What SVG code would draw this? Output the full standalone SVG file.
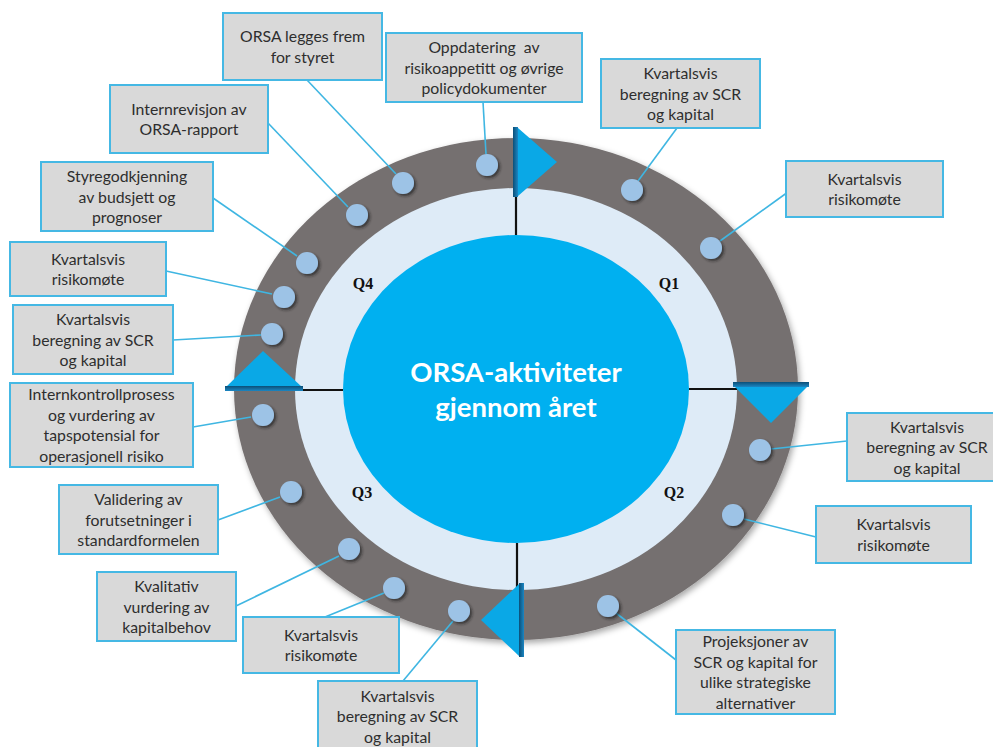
<svg xmlns="http://www.w3.org/2000/svg" width="993" height="747" viewBox="0 0 993 747">
<defs>
<filter id="sh" x="-20%" y="-20%" width="150%" height="150%"><feDropShadow dx="2" dy="2" stdDeviation="1.5" flood-color="#1a1a1a" flood-opacity="0.7"/></filter>
<filter id="ringsh" x="-10%" y="-10%" width="120%" height="120%"><feDropShadow dx="2" dy="3" stdDeviation="3" flood-color="#000" flood-opacity="0.35"/></filter>
<linearGradient id="pole" x1="0" y1="0" x2="1" y2="0"><stop offset="0" stop-color="#0b4f78"/><stop offset="1" stop-color="#1b86c2"/></linearGradient>
<linearGradient id="poleh" x1="0" y1="0" x2="0" y2="1"><stop offset="0" stop-color="#0b4f78"/><stop offset="1" stop-color="#1b86c2"/></linearGradient>
</defs>
<style>
.box{fill:#d9d9d9;stroke:#45b8e4;stroke-width:2}
.lbl{font-family:Lato,"Liberation Sans",sans-serif;font-size:15.8px;fill:#2e2e2e;text-anchor:middle}
.dot{fill:#9dc3e6;filter:url(#sh)}
.con line{stroke:#3fb6e2;stroke-width:1.6}
.q{font-family:"Liberation Serif",serif;font-weight:bold;font-size:16px;fill:#111;text-anchor:middle}
.tri{fill:#0aa8e6}
.qline{stroke:#111;stroke-width:2.2}
</style>
<rect width="993" height="747" fill="#fff"/>
<g id="wheel">
<ellipse cx="516" cy="389" rx="282" ry="251" fill="#757070" filter="url(#ringsh)"/>
<ellipse cx="516" cy="389" rx="221" ry="201" fill="#deebf7"/>
<ellipse cx="516" cy="389" rx="173" ry="154" fill="#00b0f0"/>
<line class="qline" x1="516" y1="188" x2="516" y2="235"/>
<line class="qline" x1="689" y1="389" x2="737" y2="389"/>
<line class="qline" x1="517" y1="543" x2="517" y2="588"/>
<line class="qline" x1="295" y1="390" x2="343" y2="390"/>
<text x="516" y="382" font-family="Lato,'Liberation Sans',sans-serif" font-weight="bold" font-size="27.5" fill="#fff" text-anchor="middle">ORSA-aktiviteter</text>
<text x="516" y="417" font-family="Lato,'Liberation Sans',sans-serif" font-weight="bold" font-size="27.5" fill="#fff" text-anchor="middle">gjennom året</text>
<text class="q" x="363" y="289">Q4</text>
<text class="q" x="669" y="289">Q1</text>
<text class="q" x="362" y="498">Q3</text>
<text class="q" x="674" y="498">Q2</text>
</g>
<g id="flags">
<polygon class="tri" points="518,128 518,196 557,162"/>
<rect x="513" y="127" width="5" height="70" fill="url(#pole)"/>
<polygon class="tri" points="734,386 808,386 771,423"/>
<rect x="733" y="382" width="76" height="5" fill="url(#poleh)"/>
<polygon class="tri" points="519,584 519,656 481,620"/>
<rect x="519" y="583" width="5" height="74" fill="url(#pole)"/>
<polygon class="tri" points="226,387 302,387 263,351"/>
<rect x="225" y="386" width="78" height="5" fill="url(#poleh)"/>
</g>
<g id="connectors" class="con">
<line x1="483" y1="102" x2="486" y2="154"/>
<line x1="307" y1="80" x2="396" y2="174"/>
<line x1="268" y1="123" x2="348" y2="207"/>
<line x1="213" y1="198" x2="297" y2="256"/>
<line x1="166" y1="271" x2="272" y2="294"/>
<line x1="173" y1="340" x2="261" y2="335"/>
<line x1="193" y1="427" x2="251" y2="417"/>
<line x1="218" y1="520" x2="280" y2="497"/>
<line x1="236" y1="606" x2="339" y2="556"/>
<line x1="325" y1="617" x2="384" y2="593"/>
<line x1="403" y1="681" x2="453" y2="621"/>
<line x1="676" y1="660" x2="616" y2="613"/>
<line x1="816" y1="537" x2="744" y2="519"/>
<line x1="847" y1="441" x2="771" y2="449"/>
<line x1="788" y1="192" x2="720" y2="241"/>
<line x1="677" y1="128" x2="638" y2="181"/>
</g>
<g id="n1"><rect class="box" x="223" y="13" width="159" height="67"/><text class="lbl" x="302.5" y="42.3">ORSA legges frem<tspan x="302.5" dy="20.5">for styret</tspan></text><circle class="dot" cx="403" cy="183" r="11"/></g>
<g id="n2"><rect class="box" x="386" y="33" width="196" height="69"/><text class="lbl" x="484" y="53" style="white-space:pre">Oppdatering  av<tspan x="484" dy="20.5">risikoappetitt og øvrige</tspan><tspan x="484" dy="20.5">policydokumenter</tspan></text><circle class="dot" cx="487" cy="165" r="11"/></g>
<g id="n3"><rect class="box" x="110" y="85" width="158" height="68"/><text class="lbl" x="189" y="114.8">Internrevisjon av<tspan x="189" dy="20.5">ORSA-rapport</tspan></text><circle class="dot" cx="357" cy="215" r="11"/></g>
<g id="n4"><rect class="box" x="41" y="162" width="172" height="69"/><text class="lbl" x="127" y="182">Styregodkjenning<tspan x="127" dy="20.5">av budsjett og</tspan><tspan x="127" dy="20.5">prognoser</tspan></text><circle class="dot" cx="307" cy="263" r="11"/></g>
<g id="n5"><rect class="box" x="10" y="242" width="156" height="54"/><text class="lbl" x="88" y="264.8">Kvartalsvis<tspan x="88" dy="20.5">risikomøte</tspan></text><circle class="dot" cx="284" cy="297" r="11"/></g>
<g id="n6"><rect class="box" x="13" y="305" width="160" height="69"/><text class="lbl" x="93" y="325">Kvartalsvis<tspan x="93" dy="20.5">beregning av SCR</tspan><tspan x="93" dy="20.5">og kapital</tspan></text><circle class="dot" cx="272" cy="334" r="11"/></g>
<g id="n7"><rect class="box" x="10" y="383" width="183" height="84"/><text class="lbl" x="101.5" y="400.3">Internkontrollprosess<tspan x="101.5" dy="20.5">og vurdering av</tspan><tspan x="101.5" dy="20.5">tapspotensial for</tspan><tspan x="101.5" dy="20.5">operasjonell risiko</tspan></text><circle class="dot" cx="263" cy="415" r="11"/></g>
<g id="n8"><rect class="box" x="59" y="485" width="159" height="69"/><text class="lbl" x="138.5" y="505">Validering av<tspan x="138.5" dy="20.5">forutsetninger i</tspan><tspan x="138.5" dy="20.5">standardformelen</tspan></text><circle class="dot" cx="291" cy="492" r="11"/></g>
<g id="n9"><rect class="box" x="97" y="572" width="139" height="69"/><text class="lbl" x="166.5" y="592">Kvalitativ<tspan x="166.5" dy="20.5">vurdering av</tspan><tspan x="166.5" dy="20.5">kapitalbehov</tspan></text><circle class="dot" cx="349" cy="549" r="11"/></g>
<g id="n10"><rect class="box" x="243" y="617" width="156" height="56"/><text class="lbl" x="321" y="640.8">Kvartalsvis<tspan x="321" dy="20.5">risikomøte</tspan></text><circle class="dot" cx="394" cy="588" r="11"/></g>
<g id="n11"><rect class="box" x="318" y="681" width="159" height="70"/><text class="lbl" x="397.5" y="701.5">Kvartalsvis<tspan x="397.5" dy="20.5">beregning av SCR</tspan><tspan x="397.5" dy="20.5">og kapital</tspan></text><circle class="dot" cx="459" cy="611" r="11"/></g>
<g id="n12"><rect class="box" x="676" y="630" width="159" height="84"/><text class="lbl" x="755.5" y="647.3">Projeksjoner av<tspan x="755.5" dy="20.5">SCR og kapital for</tspan><tspan x="755.5" dy="20.5">ulike strategiske</tspan><tspan x="755.5" dy="20.5">alternativer</tspan></text><circle class="dot" cx="608" cy="606" r="11"/></g>
<g id="n13"><rect class="box" x="816" y="506" width="155" height="57"/><text class="lbl" x="893.5" y="530.3">Kvartalsvis<tspan x="893.5" dy="20.5">risikomøte</tspan></text><circle class="dot" cx="733" cy="515" r="11"/></g>
<g id="n14"><rect class="box" x="847" y="413" width="160" height="68"/><text class="lbl" x="927" y="432.5">Kvartalsvis<tspan x="927" dy="20.5">beregning av SCR</tspan><tspan x="927" dy="20.5">og kapital</tspan></text><circle class="dot" cx="760" cy="450" r="11"/></g>
<g id="n15"><rect class="box" x="786" y="161" width="157" height="56"/><text class="lbl" x="864.5" y="184.8">Kvartalsvis<tspan x="864.5" dy="20.5">risikomøte</tspan></text><circle class="dot" cx="711" cy="248" r="11"/></g>
<g id="n16"><rect class="box" x="601" y="59" width="159" height="69"/><text class="lbl" x="680.5" y="79">Kvartalsvis<tspan x="680.5" dy="20.5">beregning av SCR</tspan><tspan x="680.5" dy="20.5">og kapital</tspan></text><circle class="dot" cx="632" cy="190" r="11"/></g>
</svg>
